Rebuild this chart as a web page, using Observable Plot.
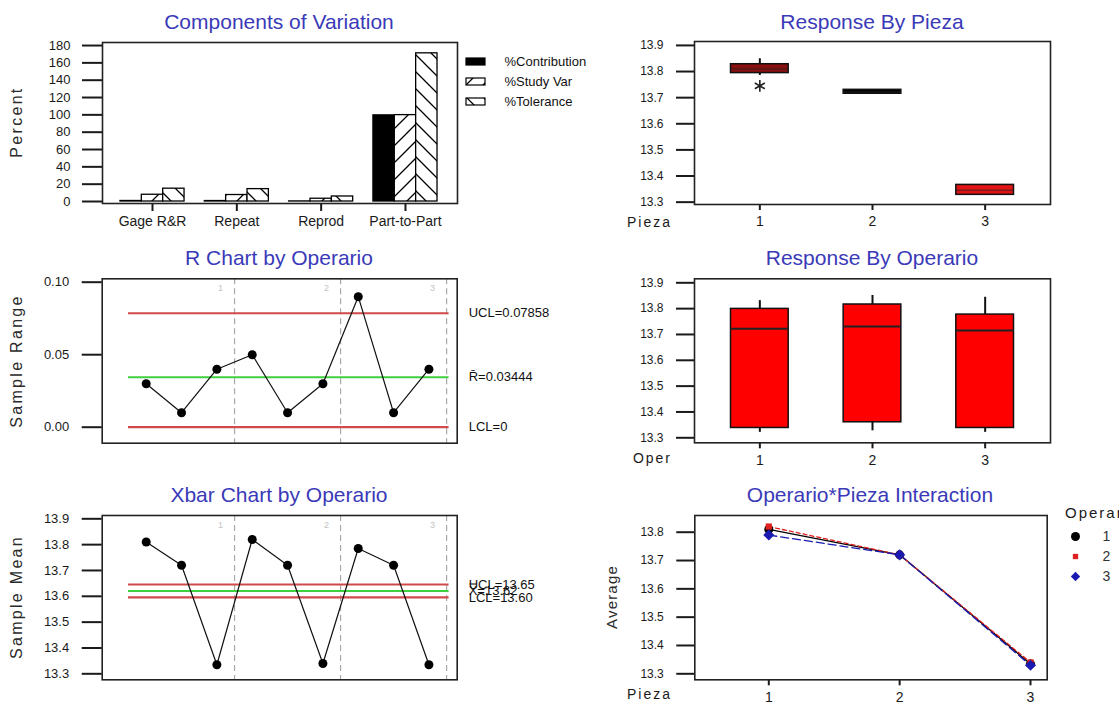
<!DOCTYPE html>
<html><head><meta charset="utf-8">
<script src="https://cdn.jsdelivr.net/npm/d3@7"></script>
<script src="https://cdn.jsdelivr.net/npm/@observablehq/plot@0.6"></script>
<style>
body{margin:0;background:#fff;overflow:hidden}
#root{position:relative;width:1119px;height:706px;overflow:hidden;background:#fff}
.p{position:absolute}
.p svg{overflow:visible}
.p svg [aria-label="y-axis tick"], .p svg [aria-label="x-axis tick"]{stroke-width:2}
.p svg .tick line{stroke-width:2}
.big [aria-label="x-axis tick label"], .big [aria-label="x-axis"] text{font-size:14px}
</style></head><body>
<svg width="0" height="0" style="position:absolute;left:0;top:0"><defs>
<pattern id="hatchF" patternUnits="userSpaceOnUse" width="17" height="17"><rect width="17" height="17" fill="#fff"/><path d="M-4,4L4,-4M0,17L17,0M13,21L21,13" stroke="#000" stroke-width="1.3"/></pattern>
<pattern id="hatchB" patternUnits="userSpaceOnUse" width="17" height="17"><rect width="17" height="17" fill="#fff"/><path d="M-4,13L4,21M0,0L17,17M13,-4L21,4" stroke="#000" stroke-width="1.3"/></pattern>
</defs></svg>
<div id="root"></div>
<script>
// ---------- DATA ----------
const compCategories = ["Gage R&R", "Repeat", "Reprod", "Part-to-Part"];
const compSeries = ["%Contribution", "%Study Var", "%Tolerance"];
const pctContribution = [0.6, 0.55, 0.1, 99.4];
const pctStudyVar = [7.8, 7.5, 3.2, 99.7];
const pctTolerance = [14.8, 14.3, 5.8, 171];

const piezas = [1, 2, 3];
const piezaQ1 = [13.794, 13.715, 13.328];
const piezaMedian = [13.81, 13.722, 13.346];
const piezaQ3 = [13.828, 13.73, 13.366];
const piezaWhiskerLo = [13.785, 13.715, 13.328];
const piezaWhiskerHi = [13.849, 13.73, 13.366];
const piezaOutlierPieza = [1];
const piezaOutlierValue = [13.745];

const operarios = [1, 2, 3];
const operQ1 = [13.338, 13.36, 13.338];
const operMedian = [13.722, 13.731, 13.715];
const operQ3 = [13.799, 13.816, 13.777];
const operWhiskerLo = [13.321, 13.327, 13.321];
const operWhiskerHi = [13.831, 13.851, 13.844];

const samplesPerOperario = 3;
const rangeValues = [0.03, 0.01, 0.04, 0.05, 0.01, 0.03, 0.09, 0.01, 0.04];
const rControlValues = [0.07858, 0.03444, 0];
const rControlLabels = ["UCL=0.07858", "R\u0304=0.03444", "LCL=0"];

const meanValues = [13.81, 13.72, 13.335, 13.82, 13.72, 13.34, 13.785, 13.72, 13.335];
const xControlValues = [13.6457, 13.6206, 13.5955];
const xControlLabels = ["UCL=13.65", "X\u033F=13.62", "LCL=13.60"];

const interOp1 = [13.81, 13.72, 13.335];
const interOp2 = [13.82, 13.72, 13.34];
const interOp3 = [13.79, 13.72, 13.33];

// ---------- STYLE ----------
const FONT = '"Liberation Sans", Arial, sans-serif';
const RED = "#cf4a4a", GREEN = "#3fcf3f";
const seriesFill = ["#000000", "url(#hatchF)", "url(#hatchB)"];
const piezaColors = ["#8a1010", "#000000", "#e01414"];
const operColors = ["#ff0000", "#ff0000", "#ff0000"];
const opColors = ["#000000", "#e02020", "#1a1ab0"];
const opDash = [null, "4,3", "8,4"];
const opSymbols = ["circle", "square", "diamond2"];
const opR = [4.5, 3.5, 5];
const baseStyle = fs => ({fontFamily: FONT, fontSize: fs + "px", background: "transparent", color: "#1a1a1a", overflow: "visible"});

const root = document.getElementById("root");
function place(el, left, top, w, h, cls) {
  const d = document.createElement("div");
  d.className = "p" + (cls ? " " + cls : "");
  Object.assign(d.style, {left: left + "px", top: top + "px", width: w + "px", height: h + "px"});
  d.appendChild(el);
  root.appendChild(d);
}

// ---------- PANEL 1: Components of Variation ----------
const compValues = [pctContribution, pctStudyVar, pctTolerance];
const compTable = compCategories.flatMap((cat, i) => compSeries.map((s, j) => ({cat, i, j, value: compValues[j][i]})));
const groupW = 0.76, barW = groupW / compSeries.length;
place(Plot.plot({
  width: 600, height: 210, marginTop: 12, marginBottom: 37, marginLeft: 102, marginRight: 143,
  style: baseStyle(13),
  x: {domain: [-0.593, 3.617], ticks: d3.range(compCategories.length), tickFormat: i => compCategories[i], tickSize: 8, tickPadding: 5, label: null},
  y: {domain: [-2.3, 183.5], ticks: d3.range(0, 181, 20), tickSize: 20, tickPadding: 12, label: null},
  color: {type: "identity"},
  marks: [
    Plot.rect(compTable, {x1: d => d.i - groupW / 2 + d.j * barW, x2: d => d.i - groupW / 2 + (d.j + 1) * barW, y1: 0, y2: "value", fill: d => seriesFill[d.j], stroke: "#000", strokeWidth: 1.3}),
    Plot.frame({stroke: "#222", strokeWidth: 1.6})
  ]
}), 0, 30, 600, 210, "big");

place(Plot.plot({
  width: 140, height: 80, marginLeft: 44, marginTop: 0, marginRight: 0, marginBottom: 0,
  style: baseStyle(13),
  x: {type: "band", domain: ["swatch"], range: [6, 25], padding: 0, axis: null},
  y: {type: "band", domain: compSeries, range: [7.3, 75.3], paddingInner: 0.656, paddingOuter: 0.5, axis: null},
  color: {type: "identity"},
  marks: [
    Plot.cell(compSeries, {x: () => "swatch", y: d => d, fill: (d, i) => seriesFill[i], stroke: "#000", strokeWidth: 1.2, inset: 0}),
    Plot.text(compSeries, {y: d => d, text: d => d, frameAnchor: "left", textAnchor: "start", fill: "#111"})
  ]
}), 460, 40, 140, 80);

// ---------- box plot helper ----------
const boxHalf = 0.256;
function boxMarks(table, medianWidth) {
  return [
    Plot.ruleX(table, {x: "p", y1: "q3", y2: "hi", stroke: "#111", strokeWidth: 2}),
    Plot.ruleX(table, {x: "p", y1: "lo", y2: "q1", stroke: "#111", strokeWidth: 2}),
    Plot.rect(table, {x1: d => d.p - boxHalf, x2: d => d.p + boxHalf, y1: "q1", y2: "q3", fill: "color", stroke: "#111", strokeWidth: 1.5}),
    Plot.ruleY(table, {y: "med", x1: d => d.p - boxHalf, x2: d => d.p + boxHalf, stroke: "#222", strokeWidth: medianWidth})
  ];
}

// ---------- PANEL 2: Response By Pieza ----------
const piezaTable = piezas.map((p, i) => ({p, q1: piezaQ1[i], med: piezaMedian[i], q3: piezaQ3[i], lo: piezaWhiskerLo[i], hi: piezaWhiskerHi[i], color: piezaColors[i]}));
const outlierTable = piezaOutlierPieza.map((p, i) => ({p, v: piezaOutlierValue[i]}));
place(Plot.plot({
  width: 519, height: 210, marginTop: 11, marginBottom: 36, marginLeft: 94, marginRight: 69,
  style: baseStyle(12),
  x: {domain: [0.42, 3.58], ticks: piezas, tickFormat: d3.format("d"), tickSize: 6, tickPadding: 6, label: null},
  y: {domain: [13.291, 13.915], ticks: d3.range(0, 7).map(k => 13.3 + k / 10), tickFormat: d3.format(".1f"), tickSize: 18, tickPadding: 13, label: null},
  color: {type: "identity"},
  marks: [
    ...boxMarks(piezaTable, 0.8),
    Plot.dot(outlierTable, {x: "p", y: "v", symbol: "asterisk", r: 5.5, stroke: "#222", strokeWidth: 1.6}),
    Plot.frame({stroke: "#222", strokeWidth: 1.6})
  ]
}), 600, 30, 519, 210, "big");

// ---------- PANEL 4: Response By Operario ----------
const operTable = operarios.map((p, i) => ({p, q1: operQ1[i], med: operMedian[i], q3: operQ3[i], lo: operWhiskerLo[i], hi: operWhiskerHi[i], color: operColors[i]}));
place(Plot.plot({
  width: 519, height: 205, marginTop: 13.3, marginBottom: 27.7, marginLeft: 94, marginRight: 69,
  style: baseStyle(12),
  x: {domain: [0.42, 3.58], ticks: operarios, tickFormat: d3.format("d"), tickSize: 6, tickPadding: 6, label: null},
  y: {domain: [13.2806, 13.9155], ticks: d3.range(0, 7).map(k => 13.3 + k / 10), tickFormat: d3.format(".1f"), tickSize: 18, tickPadding: 13, label: null},
  color: {type: "identity"},
  marks: [
    ...boxMarks(operTable, 2),
    Plot.frame({stroke: "#222", strokeWidth: 1.6})
  ]
}), 600, 265, 519, 205, "big");

// ---------- control chart helper ----------
const nSamples = rangeValues.length;
const boundaries = operarios.map((o, i) => (i + 1) * samplesPerOperario + 0.5);
function controlMarks(values, limits, labels) {
  const pts = values.map((v, i) => ({x: i + 1, v}));
  const lim = limits.map((v, i) => ({v, label: labels[i], c: i === 1 ? GREEN : RED}));
  return [
    Plot.ruleX(boundaries, {x: d => d, stroke: "#a8a8a8", strokeWidth: 1.2, strokeDasharray: "6,4"}),
    Plot.text(operarios, {x: (d, i) => (i + 1) * samplesPerOperario + 0.1, frameAnchor: "top", dy: 6, text: d => String(d), fill: "#c4c4c4", fontSize: 9}),
    Plot.ruleY(lim, {y: "v", x1: 0.5, x2: nSamples + 0.57, stroke: "c", strokeWidth: 2.2}),
    Plot.line(pts, {x: "x", y: "v", stroke: "#111", strokeWidth: 1.2}),
    Plot.dot(pts, {x: "x", y: "v", r: 4.5, fill: "#000"}),
    Plot.text(lim, {y: "v", text: "label", frameAnchor: "right", dx: 11.5, textAnchor: "start", fill: "#111", fontSize: 13}),
    Plot.frame({stroke: "#222", strokeWidth: 1.6})
  ];
}

// ---------- PANEL 3: R Chart ----------
place(Plot.plot({
  width: 600, height: 205, marginTop: 13.3, marginBottom: 27.3, marginLeft: 101.7, marginRight: 143.3,
  style: baseStyle(13),
  x: {domain: [-0.245, 9.8], axis: null},
  y: {domain: [-0.01103, 0.10234], ticks: [0, 0.05, 0.1], tickFormat: d3.format(".2f"), tickSize: 20, tickPadding: 13, label: null},
  color: {type: "identity"},
  marks: controlMarks(rangeValues, rControlValues, rControlLabels)
}), 0, 265, 600, 205);

// ---------- PANEL 5: Xbar Chart ----------
place(Plot.plot({
  width: 600, height: 206, marginTop: 15, marginBottom: 26.7, marginLeft: 101.7, marginRight: 143.3,
  style: baseStyle(13),
  x: {domain: [-0.245, 9.8], axis: null},
  y: {domain: [13.2768, 13.9128], ticks: d3.range(0, 7).map(k => 13.3 + k / 10), tickFormat: d3.format(".1f"), tickSize: 20, tickPadding: 13, label: null},
  color: {type: "identity"},
  marks: controlMarks(meanValues, xControlValues, xControlLabels)
}), 0, 500, 600, 206);

// ---------- PANEL 6: Interaction ----------
const interValues = [interOp1, interOp2, interOp3];
const interTables = operarios.map((o, k) => piezas.map((p, i) => ({op: o, p, v: interValues[k][i]})));
place(Plot.plot({
  width: 519, height: 206, marginTop: 15, marginBottom: 26.7, marginLeft: 94.3, marginRight: 72.3,
  style: baseStyle(12),
  x: {domain: [0.4345, 3.1276], ticks: piezas, tickFormat: d3.format("d"), tickSize: 6, tickPadding: 6, label: null},
  y: {domain: [13.2788, 13.859], ticks: d3.range(0, 6).map(k => 13.3 + k / 10), tickFormat: d3.format(".1f"), tickSize: 18, tickPadding: 13, label: null},
  marks: [
    ...interTables.map((t, k) => Plot.line(t, {x: "p", y: "v", stroke: opColors[k], strokeWidth: 1.3, strokeDasharray: opDash[k]})),
    ...interTables.map((t, k) => Plot.dot(t, {x: "p", y: "v", symbol: opSymbols[k], fill: opColors[k], r: opR[k]})),
    Plot.frame({stroke: "#222", strokeWidth: 1.6})
  ]
}), 600, 500, 519, 206, "big");

place(Plot.plot({
  width: 64, height: 90, margin: 0,
  style: baseStyle(14),
  x: {type: "point", domain: ["mark", "label"], range: [20, 51.7], padding: 0, axis: null},
  y: {type: "point", domain: operarios.map(String), range: [35, 76], padding: 0, axis: null},
  marks: [
    ...operarios.map((o, k) => Plot.dot([o], {x: () => "mark", y: d => String(d), symbol: opSymbols[k], fill: opColors[k], r: [4.5, 3, 4.2][k]})),
    Plot.text(operarios, {x: () => "label", y: d => String(d), text: d => String(d), fill: "#333"})
  ]
}), 1055, 500, 64, 90);

// ---------- overlay texts ----------
const ov = d3.select(root).append("svg")
  .attr("width", 1119).attr("height", 706)
  .style("position", "absolute").style("left", 0).style("top", 0).style("pointer-events", "none")
  .style("font-family", FONT);
const titles = [
  ["Components of Variation", 279, 29], ["Response By Pieza", 872, 29],
  ["R Chart by Operario", 279, 265], ["Response By Operario", 872, 265],
  ["Xbar Chart by Operario", 279, 502], ["Operario*Pieza Interaction", 870, 502]
];
ov.selectAll("text.t").data(titles).join("text").attr("class", "t")
  .attr("x", d => d[1]).attr("y", d => d[2]).attr("text-anchor", "middle")
  .attr("font-size", 21).attr("fill", "#3a3ab8").text(d => d[0]);
const ylabels = [["Percent", 22, 122, 16, 2.3], ["Sample Range", 22, 361, 16, 2.3], ["Sample Mean", 22, 597, 16, 2.3], ["Average", 617, 597, 15, 1.2]];
ov.selectAll("text.y").data(ylabels).join("text").attr("class", "y")
  .attr("transform", d => `translate(${d[1]},${d[2]}) rotate(-90)`).attr("text-anchor", "middle")
  .attr("font-size", d => d[3]).attr("letter-spacing", d => d[4]).attr("fill", "#2a2a2a").text(d => d[0]);
const xlabels = [["Pieza", 672, 227], ["Oper", 672, 463], ["Pieza", 672, 699]];
ov.selectAll("text.x").data(xlabels).join("text").attr("class", "x")
  .attr("x", d => d[1]).attr("y", d => d[2]).attr("text-anchor", "end")
  .attr("font-size", 14).attr("letter-spacing", 2).attr("fill", "#1a1a1a").text(d => d[0]);
ov.append("text").attr("x", 1065).attr("y", 518).attr("font-size", 15).attr("letter-spacing", 2).attr("fill", "#1a1a1a").text("Operario");
</script>
</body></html>
